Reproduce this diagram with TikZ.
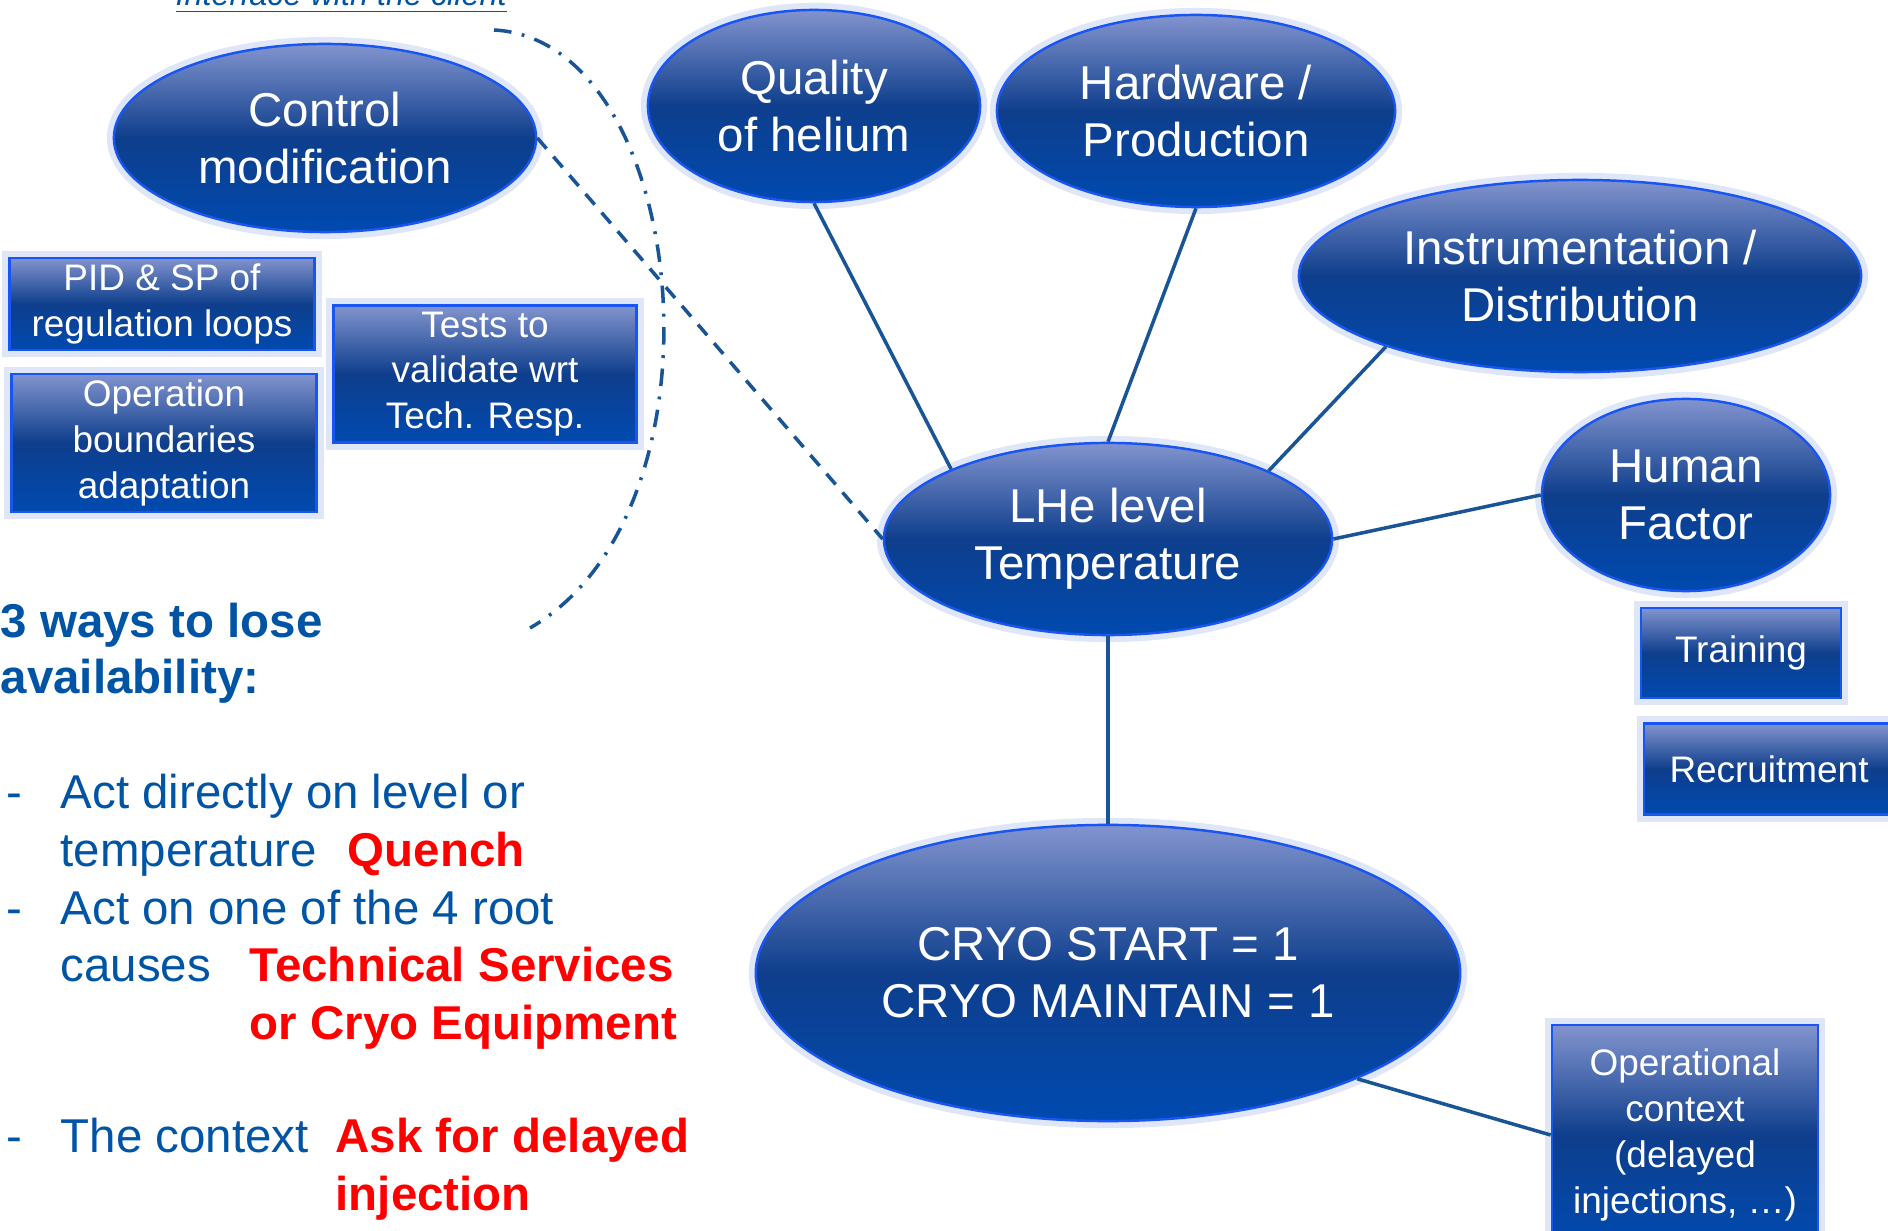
\documentclass[tikz,border=0pt]{standalone}
\usepackage{fontspec}
\setmainfont{Liberation Sans}
\usetikzlibrary{shapes}
\definecolor{bubbletop}{RGB}{130,148,206}
\definecolor{bubblemid}{RGB}{14,62,140}
\definecolor{bubblebot}{RGB}{0,74,176}
\definecolor{rimblue}{RGB}{25,85,240}
\definecolor{glowblue}{RGB}{222,230,248}
\definecolor{linkblue}{RGB}{25,85,150}
\definecolor{textblue}{RGB}{0,84,166}

\begin{document}
\begin{tikzpicture}[x=0.01cm, y=-0.01cm,
    bubble/.style={ellipse, draw=rimblue, line width=0.7pt, top color=bubbletop, bottom color=bubblebot, middle color=bubblemid, text=white, align=center, inner sep=0pt, font=\fontsize{13.5}{16.2}\selectfont, preaction={draw=glowblue, line width=4pt}},
    card/.style={rectangle, draw=rimblue, line width=0.7pt, top color=bubbletop, bottom color=bubblebot, middle color=bubblemid, text=white, align=center, inner sep=0pt, font=\fontsize{10.5}{13}\selectfont, preaction={draw=glowblue, line width=4pt}},
    link/.style={draw=linkblue, line width=1pt},
    txt/.style={anchor=base west, inner sep=0pt, text=textblue, font=\fontsize{13.5}{16.2}\selectfont},
    hot/.style={txt, text=red, font=\fontsize{13.5}{16.2}\selectfont\bfseries}]
    \useasboundingbox (0,0) rectangle (1888,1231);

    \node[bubble, minimum width=4.22cm, minimum height=1.88cm] (control_mod) at (325,138) {Control\\modification};
    \node[bubble, minimum width=3.32cm, minimum height=1.92cm] (helium_quality) at (814,106) {Quality\\of helium};
    \node[bubble, minimum width=3.98cm, minimum height=1.92cm] (hardware) at (1196,111) {Hardware /\\Production};
    \node[bubble, minimum width=5.62cm, minimum height=1.92cm] (instrumentation) at (1580,276) {Instrumentation /\\Distribution};
    \node[bubble, minimum width=2.88cm, minimum height=1.92cm] (human_factor) at (1686,495) {Human\\Factor};
    \node[bubble, minimum width=4.48cm, minimum height=1.92cm] (lhe_level) at (1108,539) {LHe level\\Temperature};
    \node[bubble, minimum width=7.04cm, minimum height=2.96cm] (cryo_state) at (1108,973) {CRYO START = 1\\CRYO MAINTAIN = 1};

    \node[card, minimum width=3.05cm, minimum height=0.92cm] (pid_sp) at (162,304) {PID \& SP of\\regulation loops};
    \node[card, minimum width=3.05cm, minimum height=1.38cm] (op_bounds) at (164,443) {Operation\\boundaries\\adaptation};
    \node[card, minimum width=3.03cm, minimum height=1.37cm] (tests) at (485,374) {Tests to\\validate wrt\\Tech. Resp.};
    \node[card, minimum width=2.00cm, minimum height=0.90cm] (training) at (1741,653) {Training};
    \node[card, minimum width=2.50cm, minimum height=0.91cm, text width=2.46cm] (recruitment) at (1769,769) {Recruitment};
    \node[card, minimum width=2.66cm, minimum height=2.20cm] (op_context) at (1685,1135) {Operational\\context\\(delayed\\injections, \ldots)};

    \path[link] (helium_quality.south) edge (lhe_level.156);
    \path[link] (hardware.south) edge (lhe_level.north);
    \path[link] (instrumentation.200) edge (lhe_level.23);
    \path[link] (human_factor.west) edge (lhe_level.east);
    \path[link] (lhe_level.south) edge (cryo_state.north);
    \path[link] (cryo_state.-23) edge (op_context.west);
    \path[link, dash pattern=on 4pt off 3pt] (control_mod.east) edge (lhe_level.west);

    \coordinate (client_start) at (494,30);
    \coordinate (client_end) at (530,628);
    \draw[link, dash pattern=on 5pt off 3pt on 0.8pt off 3pt] (client_start) .. controls (690,40) and (735,510) .. (client_end);
    \node[anchor=base west, inner sep=0pt, text=textblue, font=\fontsize{9.2}{11}\selectfont\itshape] (client) at (175,6) {\underline{Interface with the client}};

    \node[txt, font=\fontsize{13.5}{16.2}\selectfont\bfseries] (ways_a) at (0,637) {3 ways to lose};
    \node[txt, font=\fontsize{13.5}{16.2}\selectfont\bfseries] (ways_b) at (0,694) {availability:};

    \node[txt] (dash_a) at (6,808) {-};
    \node[txt] (item_a1) at (60,808) {Act directly on level or};
    \node[txt] (item_a2) at (60,866) {temperature};
    \node[hot] (quench) at (347,866) {Quench};

    \node[txt] (dash_b) at (6,924) {-};
    \node[txt] (item_b1) at (60,924) {Act on one of the 4 root};
    \node[txt] (item_b2) at (60,981) {causes};
    \node[hot] (tech_services) at (249,981) {Technical Services};
    \node[hot] (cryo_equip) at (249,1039) {or Cryo Equipment};

    \node[txt] (dash_c) at (6,1152) {-};
    \node[txt] (item_c1) at (60,1152) {The context};
    \node[hot] (delayed_a) at (335,1152) {Ask for delayed};
    \node[hot] (delayed_b) at (335,1210) {injection};
\end{tikzpicture}
\end{document}
